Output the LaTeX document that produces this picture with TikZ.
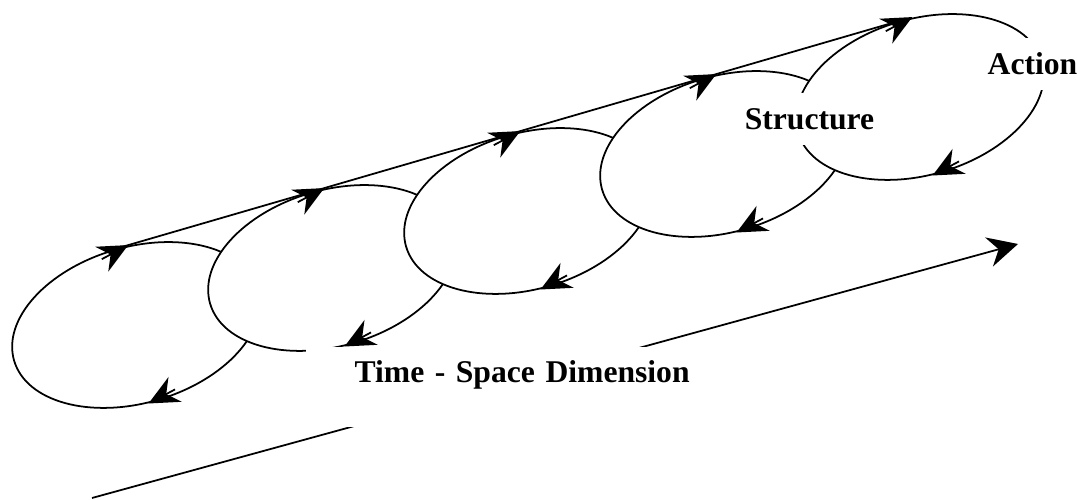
\documentclass[tikz,border=0pt]{standalone}
\usepackage{fontspec}
\setmainfont{Liberation Serif}
\usetikzlibrary{arrows.meta,shapes.geometric,calc}
\tikzset{
  boucle/.style={ellipse, draw, line width=1pt, fill=white, rotate=16.3,
                 minimum width=5.08cm, minimum height=3.12cm, inner sep=0pt},
  tete/.style={-{Stealth[length=6mm, width=5.6mm, inset=2mm]}, line width=1pt},
  fleche/.style={-{Stealth[length=6mm, width=6mm, inset=2mm]}, line width=1pt},
  etiq/.style={fill=white, font=\fontsize{18}{21}\selectfont\bfseries, inner xsep=3pt, inner ysep=0.3cm},
}
\begin{document}
\begin{tikzpicture}
  \useasboundingbox (0,0) rectangle (21.54,10);
  \coordinate (t0) at (1.84,0.04);
  \coordinate (t1) at (20.36,5.12);
  \draw[fleche] (t0) -- (t1);
  \foreach \i in {0,...,4}{
    \node[boucle] (l\i) at ({2.72+3.92*\i},{3.5+1.14*\i}) {};
    \path (l\i.north) ++(16.3:0.3) coordinate (h\i)
          (l\i.south) ++(196.3:0.2) coordinate (b\i);
    \draw[tete] ($(h\i)+(208:0.6)$) -- (h\i);
    \draw[tete] ($(b\i)+(28:0.6)$) -- (b\i);
  }
  \draw[line width=1pt] (l0.north) -- (l4.north);
  \node[etiq] (str) at (16.19,7.62) {Structure};
  \node[etiq] (act) at (20.65,8.72) {Action};
  \node[etiq, inner sep=0pt, text width=7.68cm, align=right, text height=0.72cm,
        text depth=0.88cm, anchor=base east] (tsd) at (13.8,2.34) {Time - Space Dimension};
\end{tikzpicture}
\end{document}
